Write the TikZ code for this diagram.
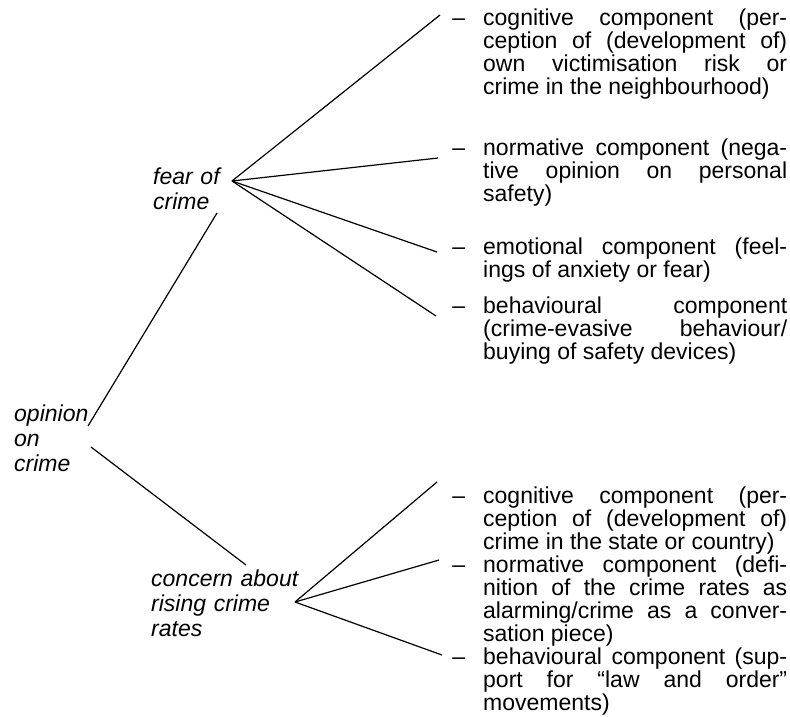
\documentclass[tikz,border=0pt]{standalone}
\usepackage{fontspec}
\setmainfont{Liberation Sans}
\tolerance=9999 \hbadness=10000 \hyphenpenalty=10000 \exhyphenpenalty=10000

\newcommand{\dashitem}{\llap{--\hspace{18pt}}}

\begin{document}
\begin{tikzpicture}[x=1pt,y=-1pt,
	lbl/.style={anchor=base west,inner sep=0,align=left,font=\itshape\fontsize{23}{25}\selectfont},
	comp/.style={anchor=base west,inner sep=0,text width=304pt,align=justify,font=\fontsize{23}{23}\selectfont},
	branch/.style={line width=1.2pt}]
	\useasboundingbox (0,0) rectangle (790,716);

	% left labels
	\node[lbl,text width=90pt] at (14,421) (opinion) {opinion\\on\\crime};
	\node[lbl,text width=80pt] at (153,184) (fear) {fear of\\crime};
	\node[lbl,text width=160pt] at (151,586) (concern) {concern about\\rising crime\\rates};

	% components of fear of crime
	\node[comp] at (483,25) (fearcog) {\dashitem cognitive component (per-\linebreak ception of (development of)\linebreak own victimisation risk or\linebreak crime in the neighbourhood)};
	\node[comp] at (483,155) (fearnorm) {\dashitem normative component (nega-\linebreak tive opinion on personal\linebreak safety)};
	\node[comp] at (483,254) (fearemo) {\dashitem emotional component (feel-\linebreak ings of anxiety or fear)};
	\node[comp] at (483,313) (fearbeh) {\dashitem behavioural component\linebreak (crime-evasive behaviour/\linebreak buying of safety devices)};

	% components of concern about rising crime rates
	\node[comp] at (483,503) (concog) {\dashitem cognitive component (per-\linebreak ception of (development of)\linebreak crime in the state or country)};
	\node[comp] at (483,572) (connorm) {\dashitem normative component (defi-\linebreak nition of the crime rates as\linebreak alarming/crime as a conver-\linebreak sation piece)};
	\node[comp] at (483,664) (conbeh) {\dashitem behavioural component (sup-\linebreak port for ``law and order''\linebreak movements)};

	% branch points
	\coordinate (optop) at (88,426);
	\coordinate (opbot) at (91,447);
	\coordinate (fearfoot) at (217,213);
	\coordinate (concerntop) at (246,565);
	\coordinate (fearhub) at (232,181);
	\coordinate (conhub) at (295,602);
	\coordinate (fearcogend) at (440,15);
	\coordinate (fearnormend) at (438,158);
	\coordinate (fearemoend) at (437,252);
	\coordinate (fearbehend) at (436,316);
	\coordinate (concogend) at (437,482);
	\coordinate (connormend) at (439,560);
	\coordinate (conbehend) at (442,655);

	\draw[branch] (optop) -- (fearfoot);
	\draw[branch] (opbot) -- (concerntop);
	\draw[branch] (fearhub) edge (fearcogend) edge (fearnormend) edge (fearemoend) edge (fearbehend);
	\draw[branch] (conhub) edge (concogend) edge (connormend) edge (conbehend);
\end{tikzpicture}
\end{document}
